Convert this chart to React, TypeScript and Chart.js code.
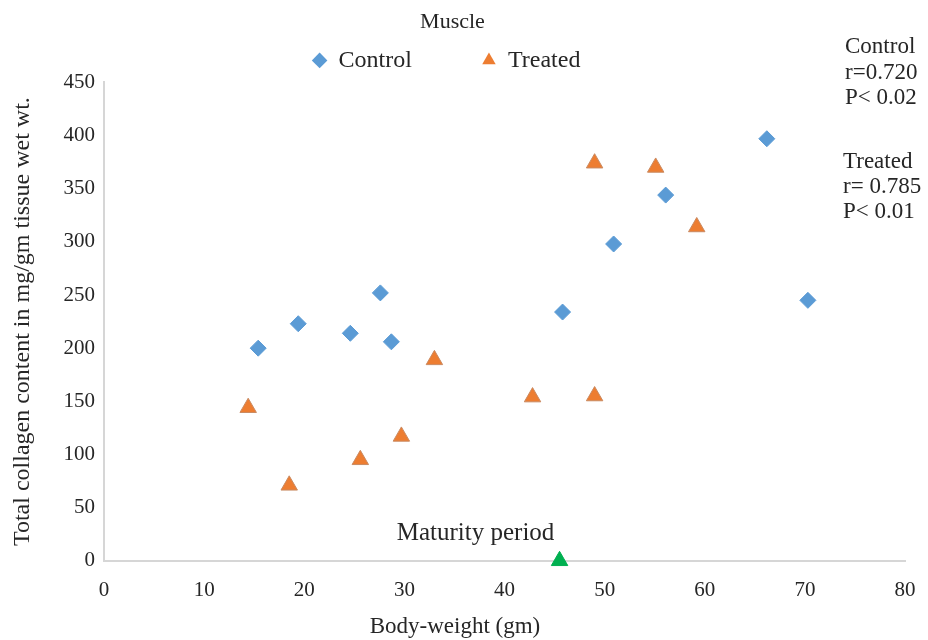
import React, { useEffect, useRef } from 'react';
import { Chart, registerables } from 'chart.js';

Chart.register(...registerables);

// ---- Data ----
const controlWeight = [15.4, 19.4, 24.6, 27.6, 28.7, 45.8, 50.9, 56.1, 66.2, 70.3];
const controlCollagen = [200, 223, 214, 252, 206, 234, 298, 344, 397, 245];
const treatedWeight = [14.4, 18.5, 25.6, 29.7, 33.0, 42.8, 49.0, 49.0, 55.1, 59.2];
const treatedCollagen = [144, 71, 95, 117, 189, 154, 155, 374, 370, 314];
const maturityWeight = [45.5];
const maturityCollagen = [0];
const controlStats = ['Control', 'r=0.720', 'P< 0.02'];
const treatedStats = ['Treated', 'r= 0.785', 'P< 0.01'];
const xTicks = { min: 0, max: 80, step: 10 };
const yTicks = { min: 0, max: 450, step: 50 };

const FONT = "'Liberation Serif', 'Times New Roman', serif";
const TEXT = '#262626';
const CONTROL_COLOR = '#5B9BD5';
const TREATED_COLOR = '#ED7D31';
const MATURITY_COLOR = '#00B050';
const AXIS_COLOR = '#d6d6d6';

const annotationPlugin = {
  id: 'annotations',
  afterDraw(chart: any) {
    const ctx = chart.ctx;
    const xs = chart.scales.x;
    const ys = chart.scales.y;
    ctx.save();
    ctx.fillStyle = TEXT;
    ctx.textBaseline = 'middle';
    ctx.textAlign = 'left';
    ctx.font = `23px ${FONT}`;
    controlStats.forEach((t, i) => ctx.fillText(t, 845, 47 + i * 25.5));
    treatedStats.forEach((t, i) => ctx.fillText(t, 843, 162 + i * 25));
    // Maturity period label
    const px = xs.getPixelForValue(maturityWeight[0]);
    const py = ys.getPixelForValue(maturityCollagen[0]);
    ctx.textAlign = 'center';
    ctx.font = `25px ${FONT}`;
    ctx.fillText('Maturity period', px - 84, py - 27);
    // x axis title
    ctx.font = `23px ${FONT}`;
    ctx.fillText('Body-weight (gm)', 455, 627);
    ctx.restore();
  },
};

export default function App() {
  const canvasRef = useRef<HTMLCanvasElement | null>(null);

  useEffect(() => {
    if (!canvasRef.current) return;
    const chart = new Chart(canvasRef.current, {
      type: 'scatter',
      data: {
        datasets: [
          {
            label: 'Control',
            data: controlWeight.map((x, i) => ({ x, y: controlCollagen[i] })),
            pointStyle: 'rectRot',
            pointRadius: 8,
            backgroundColor: CONTROL_COLOR,
            borderColor: CONTROL_COLOR,
            borderWidth: 1,
          },
          {
            label: 'Treated',
            data: treatedWeight.map((x, i) => ({ x, y: treatedCollagen[i] })),
            pointStyle: 'triangle',
            pointRadius: 9.5,
            backgroundColor: TREATED_COLOR,
            borderColor: '#c98a62',
            borderWidth: 1,
          },
          {
            label: 'Maturity period',
            data: maturityWeight.map((x, i) => ({ x, y: maturityCollagen[i] })),
            pointStyle: 'triangle',
            pointRadius: 9.5,
            backgroundColor: MATURITY_COLOR,
            borderColor: MATURITY_COLOR,
            borderWidth: 1,
            clip: false as any,
          },
        ],
      },
      options: {
        responsive: false,
        animation: false,
        layout: { padding: { left: 0, right: 23, top: 0, bottom: 28 } },
        plugins: {
          tooltip: { enabled: false },
          title: {
            display: true,
            text: 'Muscle',
            color: TEXT,
            font: { family: FONT, size: 22, weight: 'normal' },
            padding: { top: 9, bottom: 3 },
          },
          legend: {
            display: true,
            labels: {
              usePointStyle: true,
              boxHeight: 11,
              boxWidth: 14,
              padding: 10,
              color: TEXT,
              font: { family: FONT, size: 24 },
              generateLabels: () => [
                {
                  text: 'Control' + ' '.repeat(10),
                  fillStyle: CONTROL_COLOR,
                  strokeStyle: CONTROL_COLOR,
                  lineWidth: 0,
                  pointStyle: 'rectRot',
                  hidden: false,
                  datasetIndex: 0,
                  fontColor: TEXT,
                } as any,
                {
                  text: 'Treated' + ' '.repeat(2),
                  fillStyle: TREATED_COLOR,
                  strokeStyle: TREATED_COLOR,
                  lineWidth: 0,
                  pointStyle: 'triangle',
                  hidden: false,
                  datasetIndex: 1,
                  fontColor: TEXT,
                } as any,
              ],
            },
          },
        },
        scales: {
          x: {
            type: 'linear',
            min: xTicks.min,
            max: xTicks.max,
            grid: { display: false },
            border: { display: true, color: AXIS_COLOR, width: 2 },
            ticks: {
              stepSize: xTicks.step,
              padding: 9,
              color: TEXT,
              font: { family: FONT, size: 21 },
            },
          },
          y: {
            type: 'linear',
            min: yTicks.min,
            max: yTicks.max,
            grid: { display: false },
            border: { display: true, color: AXIS_COLOR, width: 2 },
            ticks: {
              stepSize: yTicks.step,
              padding: 1,
              color: TEXT,
              font: { family: FONT, size: 21 },
            },
            title: {
              display: true,
              text: 'Total collagen content in mg/gm tissue wet wt.',
              color: TEXT,
              font: { family: FONT, size: 24 },
              padding: { top: 8, bottom: 0 },
            },
            afterFit: (scale: any) => {
              scale.width = 104;
            },
          },
        },
      },
      plugins: [annotationPlugin],
    });
    return () => chart.destroy();
  }, []);

  return (
    <div style={{ position: 'absolute', left: 0, top: 0, width: 928, height: 640, background: '#fff' }}>
      <canvas ref={canvasRef} width={928} height={640} style={{ display: 'block' }} />
    </div>
  );
}
